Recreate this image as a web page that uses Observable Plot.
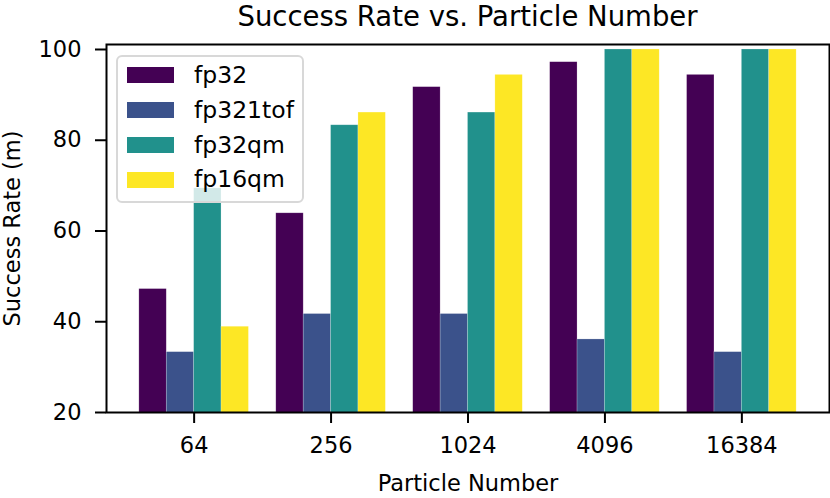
<!DOCTYPE html>
<html>
<head>
<meta charset="utf-8">
<script src="https://cdn.jsdelivr.net/npm/d3@7"></script>
<script src="https://cdn.jsdelivr.net/npm/@observablehq/plot@0.6"></script>
<style>
  body { margin: 0; background: #fff; font-family: "DejaVu Sans", sans-serif; }
  #wrap { position: relative; width: 830px; height: 498px; overflow: hidden; }
  #title { height: 34px; line-height: normal; font-size: 27.5px; text-align: center; padding-left: 105px; color: #000; white-space: nowrap; box-sizing: border-box; }
  #legend { position: absolute; left: 116px; top: 55px; width: 184px; height: 144px; border: 2px solid #d8d8d8; border-radius: 6px; background: rgba(255,255,255,0.8); }
  .row { position: absolute; left: 0; height: 35px; width: 100%; }
  .sw { position: absolute; left: 9px; width: 47px; height: 16px; }
  .lab { position: absolute; left: 76px; font-size: 23.5px; color: #000; white-space: nowrap; }
</style>
</head>
<body>
<div id="wrap">
  <div id="title">Success Rate vs. Particle Number</div>
  <div id="chart"></div>
  <div id="legend"></div>
</div>
<script>
const groups = ["64", "256", "1024", "4096", "16384"];
const seriesNames = ["fp32", "fp321tof", "fp32qm", "fp16qm"];
const colors = ["#440154", "#3b528b", "#21918c", "#fde725"];
const fp32 = [47.2, 63.9, 91.7, 97.2, 94.4];
const fp321tof = [33.3, 41.7, 41.7, 36.1, 33.3];
const fp32qm = [69.4, 83.3, 86.1, 100, 100];
const fp16qm = [38.9, 86.1, 94.4, 100, 100];
const yTicks = [20, 40, 60, 80, 100];

const seriesValues = [fp32, fp321tof, fp32qm, fp16qm];
const barWidth = 0.2;
const rows = [];
seriesValues.forEach((vals, si) => {
  vals.forEach((v, gi) => {
    rows.push({gi, si, series: seriesNames[si], value: v});
  });
});

const chart = Plot.plot({
  width: 830,
  height: 464,
  marginTop: 10,
  marginBottom: 86,
  marginLeft: 106,
  marginRight: 1,
  style: {fontFamily: "DejaVu Sans, sans-serif", fontSize: "22.5px", color: "#000", background: "#fff"},
  x: {type: "linear", domain: [-0.64, 4.64]},
  y: {domain: [20, 101.1]},
  color: {domain: seriesNames, range: colors},
  marks: [
    Plot.rectY(rows, {
      x1: d => d.gi + (d.si - 1.5) * barWidth - barWidth / 2,
      x2: d => d.gi + (d.si - 1.5) * barWidth + barWidth / 2,
      y1: 0,
      y2: "value",
      fill: "series",
      stroke: "#fff",
      strokeOpacity: 0.35,
      strokeWidth: 0.6,
      clip: true
    }),
    Plot.axisX({
      ticks: d3.range(groups.length),
      tickFormat: i => groups[i],
      tickSize: 11,
      tickPadding: 14,
      strokeWidth: 2,
      fontSize: 22.5,
      label: "Particle Number",
      labelAnchor: "center",
      labelArrow: "none",
      labelOffset: 78
    }),
    Plot.axisY({
      ticks: yTicks,
      tickSize: 11,
      tickPadding: 14,
      strokeWidth: 2,
      fontSize: 22.5,
      label: "Success Rate (m)",
      labelAnchor: "center",
      labelArrow: "none",
      labelOffset: 102
    }),
    Plot.frame({stroke: "#000", strokeWidth: 2})
  ]
});
document.getElementById("chart").appendChild(chart);

const legend = document.getElementById("legend");
const rowCenters = [18.3, 53, 88, 122.5];
seriesNames.forEach((name, i) => {
  const r = document.createElement("div");
  r.className = "row";
  r.style.top = (rowCenters[i] - 17.5) + "px";
  const sw = document.createElement("div");
  sw.className = "sw";
  sw.style.background = colors[i];
  sw.style.top = "9.5px";
  const lab = document.createElement("div");
  lab.className = "lab";
  lab.style.top = "2px";
  lab.style.lineHeight = "30px";
  lab.textContent = name;
  r.appendChild(sw);
  r.appendChild(lab);
  legend.appendChild(r);
});
</script>
</body>
</html>
